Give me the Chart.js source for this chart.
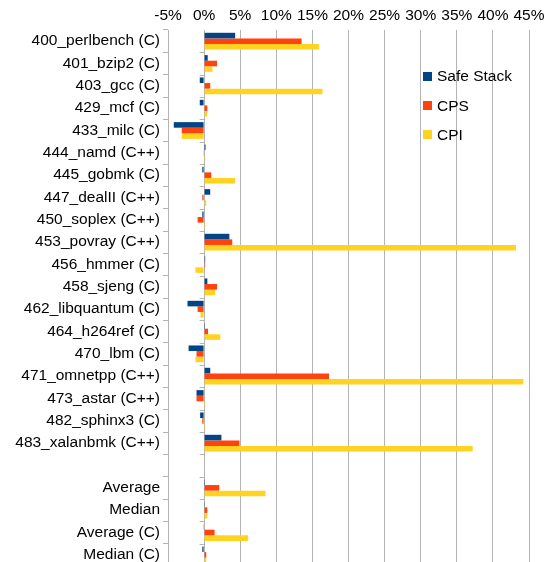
<!DOCTYPE html>
<html>
<head>
<meta charset="utf-8">
<script src="https://cdn.jsdelivr.net/npm/chart.js@4/dist/chart.umd.min.js"></script>
<style>
  html, body { margin: 0; padding: 0; background: #fff; overflow: hidden; }
  #wrap { width: 544px; height: 566px; }
</style>
</head>
<body>
<div id="wrap"><canvas id="chart" width="544" height="566"></canvas></div>
<script>
// benchmark rows (blank row separates the summary rows)
const labels = [
  "400_perlbench (C)", "401_bzip2 (C)", "403_gcc (C)", "429_mcf (C)", "433_milc (C)",
  "444_namd (C++)", "445_gobmk (C)", "447_dealII (C++)", "450_soplex (C++)", "453_povray (C++)",
  "456_hmmer (C)", "458_sjeng (C)", "462_libquantum (C)", "464_h264ref (C)", "470_lbm (C)",
  "471_omnetpp (C++)", "473_astar (C++)", "482_sphinx3 (C)", "483_xalanbmk (C++)", "",
  "Average", "Median", "Average (C)", "Median (C)"
];

// overhead in percent
const safeStack = [4.3, 0.5, -0.6, -0.6, -4.2, 0.2, -0.25, 0.85, -0.25, 3.5, 0.15, 0.45, -2.3, 0.12, -2.15, 0.85, -1.05, -0.55, 2.4, null, 0.12, 0.1, -0.1, -0.25];
const cps = [13.5, 1.8, 0.85, 0.45, -3.1, -0.1, 1.0, -0.25, -0.9, 3.9, 0.15, 1.8, -0.9, 0.55, -1.05, 17.3, -1.05, -0.25, 4.9, null, 2.1, 0.45, 1.45, 0.3];
const cpi = [15.9, 1.15, 16.4, 0.45, -3.1, 0.15, 4.3, 0.3, 0.15, 43.2, -1.2, 1.55, -0.5, 2.25, -1.2, 44.2, 0.15, 0.15, 37.2, null, 8.5, 0.45, 6.1, 0.3];

const xMin = -5, xMax = 45, xStep = 5;

const C = { blue: "#004586", orange: "#ff420e", yellow: "#ffd320", grid: "#b3b3b3", text: "#000000" };
const FONT = "'Liberation Sans', Arial, sans-serif";

Chart.defaults.font.family = FONT;
Chart.defaults.font.size = 15.5;
Chart.defaults.color = C.text;

// small ticks where the category axis crosses 0%
const zeroTicks = {
  id: "zeroTicks",
  beforeDatasetsDraw(chart) {
    const { ctx, scales: { x, y } } = chart;
    const x0 = x.getPixelForValue(0);
    const row = (y.bottom - y.top) / labels.length;
    ctx.save();
    ctx.strokeStyle = C.grid;
    ctx.lineWidth = 1;
    ctx.beginPath();
    for (let i = 1; i < labels.length; i++) {
      const yy = Math.round(y.top + i * row) + 0.5;
      ctx.moveTo(x0 - 4.5, yy);
      ctx.lineTo(x0, yy);
    }
    ctx.stroke();
    ctx.restore();
  }
};

// legend sitting inside the plot, upper right
const insideLegend = {
  id: "insideLegend",
  afterDraw(chart) {
    const { ctx } = chart;
    ctx.save();
    ctx.font = "15.5px " + FONT;
    ctx.textBaseline = "middle";
    chart.data.datasets.forEach((ds, i) => {
      const cy = 76 + i * 29.3;
      ctx.fillStyle = ds.backgroundColor;
      ctx.fillRect(423, Math.round(cy - 4.5), 9, 9);
      ctx.fillStyle = C.text;
      ctx.fillText(ds.label, 437, cy + 1);
    });
    ctx.restore();
  }
};

new Chart(document.getElementById("chart"), {
  type: "bar",
  data: {
    labels,
    datasets: [
      { label: "Safe Stack", data: safeStack, backgroundColor: C.blue },
      { label: "CPS", data: cps, backgroundColor: C.orange },
      { label: "CPI", data: cpi, backgroundColor: C.yellow },
    ]
  },
  options: {
    indexAxis: "y",
    responsive: false,
    animation: false,
    devicePixelRatio: 1,
    layout: { padding: { left: 0, right: 15, top: 0, bottom: 0 } },
    datasets: { bar: { categoryPercentage: 0.75, barPercentage: 1.0 } },
    plugins: { legend: { display: false }, tooltip: { enabled: false } },
    scales: {
      x: {
        position: "top",
        min: xMin, max: xMax,
        afterFit: s => { s.height = 30; s.paddingLeft = 0; s.paddingRight = 0; },
        ticks: { stepSize: xStep, padding: 5, callback: v => v + "%", maxRotation: 0 },
        grid: { color: C.grid, drawTicks: false, lineWidth: 1 },
        border: { display: false }
      },
      y: {
        afterFit: s => { s.width = 168; s.paddingTop = 0; s.paddingBottom = 0; },
        ticks: { padding: 3, autoSkip: false },
        grid: { drawOnChartArea: false, drawTicks: true, tickLength: 5, color: C.grid, offset: true },
        border: { display: true, color: C.grid, width: 1 }
      }
    }
  },
  plugins: [zeroTicks, insideLegend]
});
</script>
</body>
</html>
